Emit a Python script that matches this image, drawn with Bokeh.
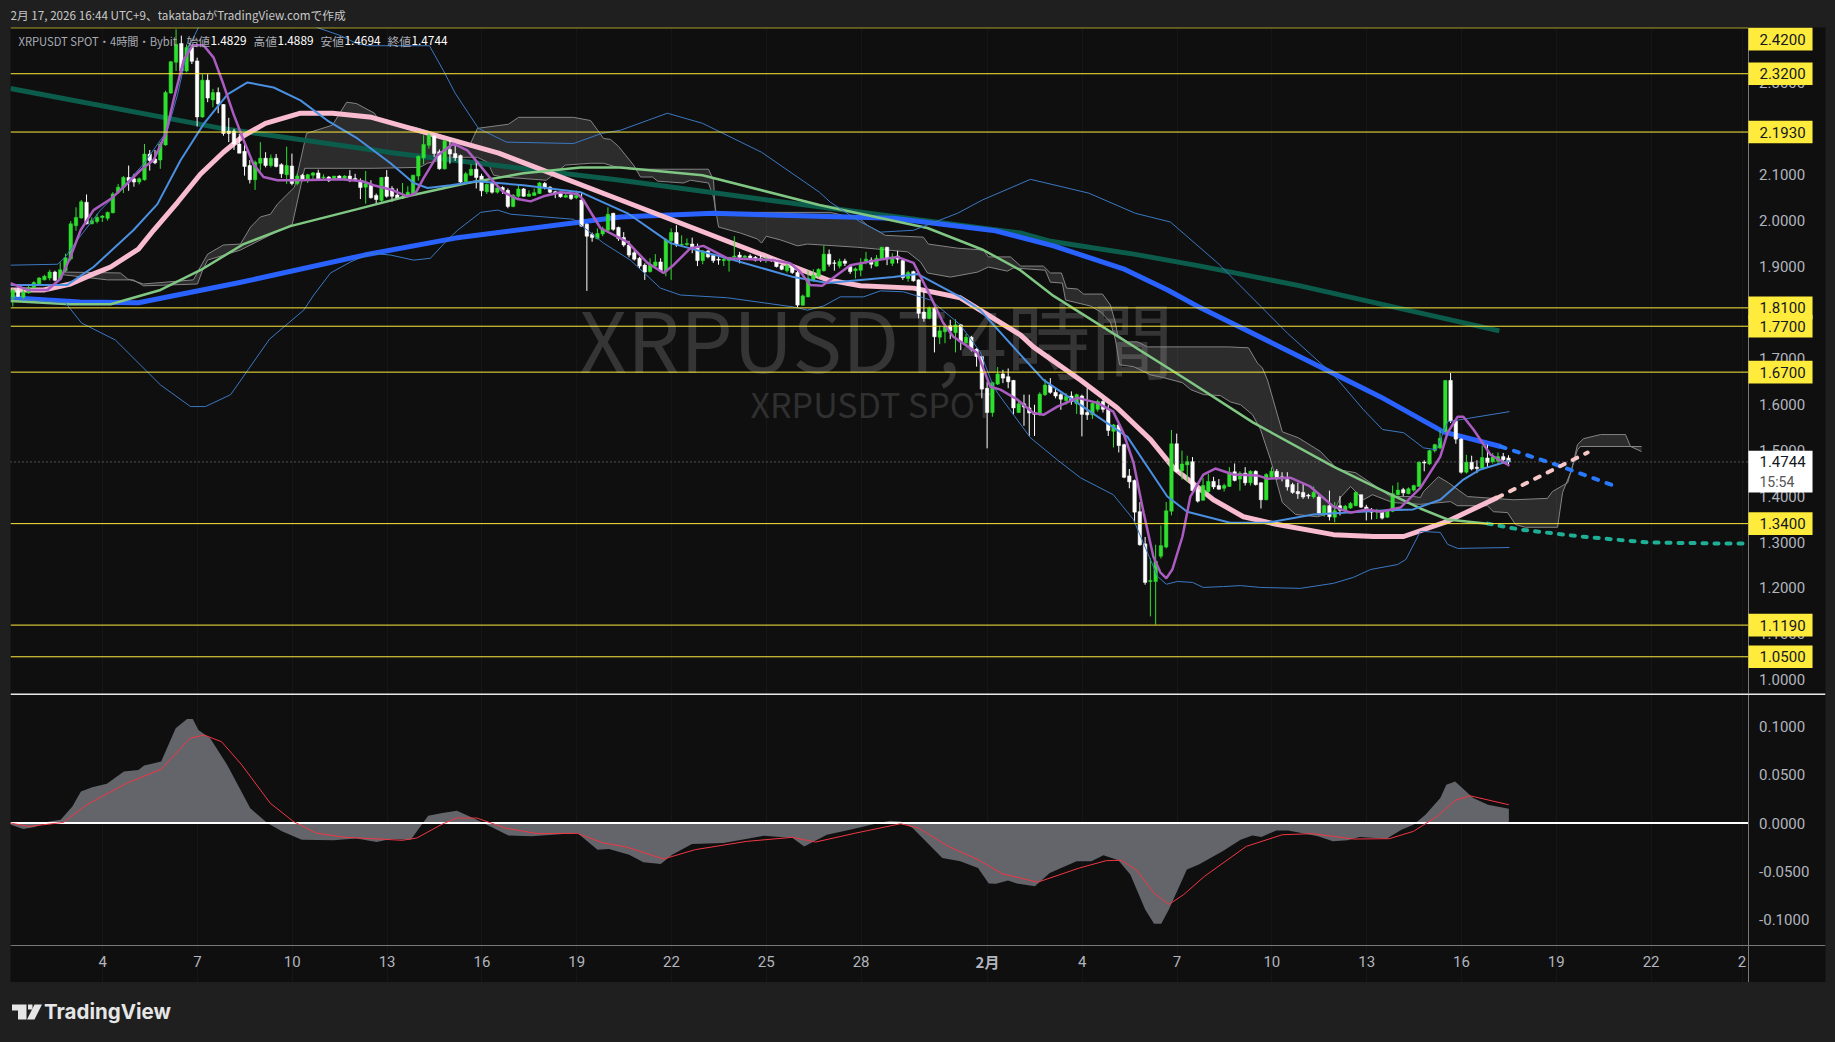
from bokeh.core.properties import value
from bokeh.embed import file_html
from bokeh.layouts import column
from bokeh.models import (ColumnDataSource, FixedTicker, GlobalInlineStyleSheet, Grid, Label, LinearAxis,
                          NumeralTickFormatter, Range1d, Span)
from bokeh.plotting import figure
from bokeh.resources import INLINE

# candles, 4h bars, x is days counted from Jan 0 (Feb 1 = 32)
first_day = 1.155
opens = [1.830, 1.848, 1.833, 1.843, 1.854, 1.861, 1.871, 1.875, 1.888, 1.873,
         1.891, 1.917, 1.989, 2.006, 2.040, 1.993, 1.998, 2.007, 2.005, 2.017,
         2.062, 2.073, 2.094, 2.091, 2.084, 2.089, 2.145, 2.134, 2.132, 2.165,
         2.278, 2.345, 2.386, 2.326, 2.377, 2.348, 2.226, 2.306, 2.263, 2.279,
         2.253, 2.195, 2.195, 2.167, 2.151, 2.120, 2.089, 2.125, 2.136, 2.120,
         2.136, 2.122, 2.100, 2.119, 2.081, 2.099, 2.089, 2.099, 2.104, 2.094,
         2.095, 2.089, 2.097, 2.092, 2.097, 2.092, 2.087, 2.073, 2.077, 2.055,
         2.044, 2.095, 2.070, 2.056, 2.049, 2.053, 2.059, 2.097, 2.137, 2.164,
         2.184, 2.150, 2.113, 2.155, 2.146, 2.142, 2.085, 2.099, 2.112, 2.097,
         2.063, 2.081, 2.062, 2.072, 2.066, 2.031, 2.053, 2.069, 2.053, 2.055,
         2.059, 2.081, 2.073, 2.063, 2.060, 2.051, 2.056, 2.050, 2.045, 1.992,
         1.970, 1.961, 1.971, 1.979, 2.016, 1.985, 1.963, 1.947, 1.930, 1.918,
         1.903, 1.889, 1.901, 1.910, 1.890, 1.956, 1.974, 1.947, 1.948, 1.949,
         1.943, 1.913, 1.934, 1.924, 1.916, 1.913, 1.913, 1.921, 1.925, 1.920,
         1.923, 1.920, 1.918, 1.914, 1.916, 1.914, 1.902, 1.891, 1.901, 1.887,
         1.816, 1.834, 1.869, 1.879, 1.891, 1.927, 1.908, 1.901, 1.912, 1.900,
         1.891, 1.892, 1.911, 1.914, 1.901, 1.916, 1.942, 1.907, 1.923, 1.913,
         1.874, 1.889, 1.871, 1.801, 1.787, 1.809, 1.746, 1.758, 1.771, 1.756,
         1.773, 1.734, 1.746, 1.720, 1.704, 1.635, 1.582, 1.644, 1.666, 1.660,
         1.652, 1.582, 1.601, 1.592, 1.582, 1.578, 1.621, 1.642, 1.626, 1.621,
         1.608, 1.618, 1.601, 1.618, 1.582, 1.577, 1.589, 1.606, 1.589, 1.541,
         1.555, 1.512, 1.444, 1.434, 1.366, 1.296, 1.214, 1.214, 1.269, 1.289,
         1.367, 1.514, 1.455, 1.468, 1.475, 1.414, 1.391, 1.410, 1.432, 1.423,
         1.417, 1.421, 1.453, 1.437, 1.450, 1.429, 1.454, 1.429, 1.392, 1.442,
         1.454, 1.442, 1.436, 1.425, 1.410, 1.408, 1.402, 1.398, 1.398, 1.363,
         1.379, 1.354, 1.379, 1.368, 1.374, 1.379, 1.403, 1.376, 1.367, 1.365,
         1.367, 1.354, 1.367, 1.403, 1.414, 1.405, 1.413, 1.421, 1.474, 1.470,
         1.499, 1.505, 1.541, 1.652, 1.563, 1.524, 1.452, 1.474, 1.463, 1.461,
         1.483, 1.475, 1.476, 1.486, 1.4829]
highs = [1.852, 1.855, 1.854, 1.859, 1.868, 1.877, 1.882, 1.893, 1.891, 1.909,
         1.928, 1.999, 2.029, 2.045, 2.057, 2.007, 2.015, 2.012, 2.020, 2.062,
         2.080, 2.097, 2.120, 2.102, 2.094, 2.167, 2.154, 2.154, 2.171, 2.283,
         2.348, 2.417, 2.403, 2.384, 2.381, 2.355, 2.319, 2.319, 2.287, 2.290,
         2.254, 2.224, 2.200, 2.189, 2.171, 2.132, 2.131, 2.171, 2.149, 2.144,
         2.145, 2.125, 2.161, 2.146, 2.102, 2.102, 2.102, 2.106, 2.111, 2.101,
         2.097, 2.097, 2.099, 2.099, 2.110, 2.102, 2.092, 2.108, 2.088, 2.059,
         2.095, 2.110, 2.075, 2.070, 2.082, 2.075, 2.100, 2.142, 2.186, 2.190,
         2.187, 2.155, 2.175, 2.176, 2.164, 2.144, 2.106, 2.123, 2.132, 2.102,
         2.081, 2.082, 2.081, 2.075, 2.070, 2.058, 2.079, 2.071, 2.066, 2.070,
         2.084, 2.084, 2.075, 2.065, 2.063, 2.060, 2.060, 2.065, 2.062, 1.994,
         1.974, 1.983, 1.987, 2.029, 2.017, 1.987, 1.975, 1.956, 1.936, 1.921,
         1.907, 1.918, 1.927, 1.918, 1.961, 1.983, 1.990, 1.968, 1.961, 1.963,
         1.950, 1.936, 1.936, 1.927, 1.921, 1.921, 1.920, 1.966, 1.932, 1.925,
         1.927, 1.923, 1.925, 1.921, 1.921, 1.916, 1.904, 1.907, 1.903, 1.891,
         1.839, 1.891, 1.894, 1.896, 1.946, 1.937, 1.914, 1.917, 1.917, 1.901,
         1.898, 1.918, 1.932, 1.920, 1.925, 1.943, 1.943, 1.929, 1.934, 1.916,
         1.891, 1.891, 1.872, 1.847, 1.813, 1.811, 1.771, 1.775, 1.784, 1.785,
         1.775, 1.753, 1.749, 1.722, 1.704, 1.649, 1.649, 1.681, 1.675, 1.678,
         1.653, 1.606, 1.621, 1.621, 1.599, 1.626, 1.655, 1.657, 1.635, 1.624,
         1.624, 1.628, 1.623, 1.621, 1.635, 1.606, 1.610, 1.611, 1.599, 1.557,
         1.557, 1.514, 1.459, 1.436, 1.387, 1.311, 1.265, 1.294, 1.336, 1.387,
         1.544, 1.536, 1.499, 1.488, 1.485, 1.421, 1.439, 1.449, 1.442, 1.437,
         1.427, 1.463, 1.471, 1.454, 1.463, 1.456, 1.456, 1.430, 1.450, 1.463,
         1.459, 1.452, 1.452, 1.429, 1.429, 1.427, 1.405, 1.421, 1.405, 1.381,
         1.412, 1.387, 1.400, 1.381, 1.387, 1.410, 1.403, 1.381, 1.374, 1.372,
         1.369, 1.371, 1.423, 1.430, 1.418, 1.419, 1.425, 1.475, 1.478, 1.501,
         1.514, 1.544, 1.652, 1.668, 1.566, 1.526, 1.490, 1.488, 1.478, 1.510,
         1.512, 1.494, 1.495, 1.494, 1.4889]
lows = [1.813, 1.834, 1.830, 1.841, 1.852, 1.859, 1.870, 1.870, 1.868, 1.871,
        1.888, 1.913, 1.978, 2.004, 1.992, 1.992, 1.994, 1.997, 2.000, 2.016,
        2.058, 2.060, 2.065, 2.074, 2.079, 2.087, 2.109, 2.123, 2.113, 2.163,
        2.276, 2.326, 2.323, 2.323, 2.341, 2.205, 2.224, 2.258, 2.247, 2.234,
        2.185, 2.171, 2.154, 2.147, 2.098, 2.081, 2.067, 2.109, 2.116, 2.116,
        2.116, 2.093, 2.080, 2.077, 2.077, 2.086, 2.082, 2.089, 2.088, 2.089,
        2.084, 2.088, 2.088, 2.089, 2.084, 2.086, 2.047, 2.037, 2.048, 2.037,
        2.041, 2.050, 2.041, 2.046, 2.047, 2.052, 2.055, 2.087, 2.123, 2.157,
        2.139, 2.111, 2.111, 2.124, 2.130, 2.079, 2.084, 2.097, 2.070, 2.053,
        2.058, 2.059, 2.059, 2.058, 2.027, 2.029, 2.050, 2.052, 2.052, 2.054,
        2.058, 2.068, 2.060, 2.049, 2.050, 2.050, 2.045, 2.047, 1.987, 1.847,
        1.954, 1.959, 1.966, 1.978, 1.978, 1.956, 1.943, 1.920, 1.913, 1.896,
        1.871, 1.887, 1.898, 1.889, 1.879, 1.871, 1.943, 1.943, 1.945, 1.929,
        1.901, 1.905, 1.918, 1.908, 1.904, 1.901, 1.889, 1.920, 1.907, 1.916,
        1.916, 1.911, 1.910, 1.908, 1.910, 1.898, 1.892, 1.887, 1.884, 1.811,
        1.814, 1.833, 1.867, 1.876, 1.889, 1.900, 1.891, 1.896, 1.901, 1.884,
        1.874, 1.879, 1.905, 1.896, 1.900, 1.914, 1.903, 1.901, 1.907, 1.871,
        1.867, 1.867, 1.787, 1.780, 1.785, 1.713, 1.731, 1.733, 1.742, 1.713,
        1.718, 1.729, 1.715, 1.682, 1.613, 1.504, 1.573, 1.642, 1.646, 1.635,
        1.577, 1.581, 1.553, 1.531, 1.531, 1.575, 1.618, 1.623, 1.613, 1.588,
        1.599, 1.599, 1.579, 1.530, 1.566, 1.568, 1.584, 1.582, 1.531, 1.506,
        1.495, 1.439, 1.417, 1.343, 1.292, 1.207, 1.138, 1.120, 1.264, 1.286,
        1.358, 1.452, 1.436, 1.432, 1.408, 1.386, 1.390, 1.407, 1.415, 1.414,
        1.410, 1.420, 1.432, 1.412, 1.423, 1.423, 1.423, 1.373, 1.391, 1.437,
        1.436, 1.432, 1.412, 1.405, 1.394, 1.394, 1.394, 1.394, 1.358, 1.355,
        1.347, 1.343, 1.358, 1.365, 1.372, 1.378, 1.374, 1.347, 1.349, 1.350,
        1.349, 1.352, 1.365, 1.401, 1.400, 1.404, 1.410, 1.420, 1.454, 1.468,
        1.495, 1.502, 1.539, 1.559, 1.514, 1.449, 1.449, 1.456, 1.450, 1.459,
        1.463, 1.471, 1.471, 1.473, 1.4694]
closes = [1.848, 1.835, 1.844, 1.854, 1.865, 1.875, 1.879, 1.888, 1.870, 1.893,
          1.919, 1.993, 2.007, 2.041, 1.993, 2.000, 2.007, 2.010, 2.018, 2.058,
          2.073, 2.094, 2.087, 2.084, 2.091, 2.145, 2.131, 2.126, 2.167, 2.279,
          2.346, 2.384, 2.326, 2.377, 2.347, 2.226, 2.306, 2.267, 2.279, 2.254,
          2.190, 2.190, 2.167, 2.147, 2.118, 2.089, 2.127, 2.136, 2.120, 2.136,
          2.118, 2.102, 2.120, 2.081, 2.097, 2.089, 2.100, 2.104, 2.091, 2.095,
          2.087, 2.097, 2.091, 2.097, 2.087, 2.089, 2.072, 2.081, 2.050, 2.046,
          2.094, 2.053, 2.053, 2.049, 2.053, 2.062, 2.099, 2.140, 2.166, 2.186,
          2.146, 2.113, 2.174, 2.145, 2.137, 2.084, 2.102, 2.112, 2.094, 2.065,
          2.079, 2.062, 2.071, 2.066, 2.031, 2.055, 2.069, 2.053, 2.058, 2.061,
          2.082, 2.072, 2.062, 2.060, 2.052, 2.055, 2.048, 2.055, 1.988, 1.966,
          1.963, 1.972, 1.982, 2.014, 1.981, 1.961, 1.947, 1.925, 1.916, 1.901,
          1.888, 1.903, 1.910, 1.891, 1.958, 1.974, 1.947, 1.948, 1.950, 1.943,
          1.913, 1.934, 1.921, 1.913, 1.914, 1.916, 1.920, 1.923, 1.920, 1.923,
          1.917, 1.914, 1.914, 1.917, 1.913, 1.900, 1.894, 1.902, 1.887, 1.816,
          1.836, 1.874, 1.881, 1.894, 1.927, 1.905, 1.907, 1.911, 1.907, 1.889,
          1.895, 1.907, 1.916, 1.905, 1.918, 1.942, 1.918, 1.921, 1.916, 1.876,
          1.887, 1.869, 1.798, 1.787, 1.809, 1.747, 1.760, 1.769, 1.760, 1.773,
          1.736, 1.746, 1.720, 1.704, 1.633, 1.582, 1.647, 1.666, 1.657, 1.649,
          1.592, 1.601, 1.594, 1.581, 1.578, 1.622, 1.642, 1.626, 1.618, 1.611,
          1.617, 1.606, 1.621, 1.578, 1.577, 1.602, 1.606, 1.589, 1.543, 1.555,
          1.510, 1.441, 1.431, 1.365, 1.294, 1.212, 1.216, 1.258, 1.292, 1.368,
          1.514, 1.454, 1.470, 1.475, 1.412, 1.389, 1.423, 1.432, 1.420, 1.415,
          1.423, 1.452, 1.434, 1.450, 1.429, 1.454, 1.425, 1.392, 1.447, 1.454,
          1.439, 1.439, 1.420, 1.408, 1.405, 1.398, 1.400, 1.408, 1.363, 1.379,
          1.355, 1.368, 1.369, 1.378, 1.384, 1.408, 1.376, 1.367, 1.365, 1.369,
          1.352, 1.369, 1.405, 1.413, 1.407, 1.416, 1.423, 1.474, 1.472, 1.499,
          1.512, 1.526, 1.652, 1.563, 1.524, 1.452, 1.474, 1.459, 1.460, 1.484,
          1.473, 1.485, 1.486, 1.479, 1.4744]

# moving averages: (day, price)
sma_slow_days = [1.08, 7.76, 13.27, 20.39, 25.04, 33.04, 34.0, 36.63, 38.74, 41.9, 48.2]
sma_slow_vals = [2.288, 2.201, 2.147, 2.088, 2.045, 1.973, 1.955, 1.927, 1.901, 1.858, 1.760]

blue_days = [1.08, 3.27, 5.13, 8.26, 12.28, 15.16, 20.38, 23.33, 29.02, 32.25, 34.09, 36.3, 37.7, 38.74, 40.0, 41.9, 42.6,
             44.44, 46.43, 48.24]
blue_vals = [1.832, 1.823, 1.821, 1.864, 1.925, 1.962, 2.008, 2.016, 2.005, 1.978, 1.945, 1.895, 1.849, 1.810, 1.768, 1.703, 1.679,
             1.616, 1.540, 1.508]
blue_fut_days = [48.24, 49.97, 51.81]
blue_fut_vals = [1.508, 1.469, 1.423]

pink_days = [1.08, 2.13, 2.98, 3.71, 4.25, 5.13, 5.61, 6.37, 7.09, 7.82, 8.46, 9.15, 10.26, 11.27, 12.51, 16.53, 20.39, 26.94, 27.98,
             29.66, 31.14, 33.04, 33.45, 34.94, 36.11, 37.16, 37.88, 39.15, 40.1, 41.18, 42.95, 44.22, 45.17, 46.56, 48.14]
pink_vals = [1.849, 1.849, 1.862, 1.884, 1.899, 1.938, 1.979, 2.040, 2.101, 2.149, 2.185, 2.212, 2.234, 2.234, 2.225, 2.147, 2.045, 1.871, 1.858,
             1.853, 1.832, 1.751, 1.725, 1.653, 1.592, 1.523, 1.462, 1.392, 1.355, 1.338, 1.316, 1.312, 1.312, 1.345, 1.397]
pink_fut_days = [48.14, 50.99]
pink_fut_vals = [1.397, 1.495]

green_days = [1.08, 2.98, 4.25, 5.83, 7.09, 8.46, 9.94, 12.06, 13.64, 15.54, 17.31, 19.12, 20.38, 22.98,
              26.68, 30.1, 31.87, 33.04, 34.09, 38.32, 40.41, 42.95, 44.44, 45.7, 46.56, 47.83]
green_vals = [1.825, 1.818, 1.818, 1.849, 1.892, 1.949, 1.988, 2.025, 2.053, 2.082, 2.103, 2.116, 2.116, 2.099,
              2.034, 1.984, 1.936, 1.892, 1.836, 1.653, 1.560, 1.464, 1.414, 1.373, 1.349, 1.340]
teal_fut_days = [47.83, 48.87, 50.77, 52.89, 54.98, 56.05]
teal_fut_vals = [1.340, 1.327, 1.312, 1.299, 1.297, 1.297]

# bollinger
bb_mid_days = [1.08, 2.88, 3.71, 4.97, 5.73, 6.46, 7.19, 7.95, 8.58, 9.41, 10.26, 11.11, 12.06, 13.11, 13.84,
               14.28, 15.01, 15.86, 17.31, 19.12, 20.61, 21.97, 23.77, 25.86, 26.94, 29.02, 29.78, 31.14, 31.77,
               33.04, 33.77, 36.43, 37.69, 38.32, 39.68, 40.85, 42.31, 44.65, 45.47, 46.33, 47.06, 47.6, 48.52]
bb_mid_vals = [1.860, 1.860, 1.899, 1.979, 2.036, 2.131, 2.210, 2.275, 2.301, 2.290, 2.262, 2.218, 2.179, 2.125, 2.082,
               2.071, 2.077, 2.086, 2.077, 2.062, 2.016, 1.951, 1.918, 1.877, 1.864, 1.877, 1.884, 1.834, 1.805,
               1.708, 1.653, 1.529, 1.399, 1.366, 1.342, 1.342, 1.360, 1.369, 1.371, 1.392, 1.436, 1.458, 1.477]
bb_up_days = [1.08, 2.57, 2.82, 3.2, 3.93, 4.25, 5.29, 6.05, 6.37, 6.68, 7.03, 8.05, 9.94, 10.77, 11.53, 12.03, 12.41,
              14.34, 14.78, 15.16, 15.89, 16.78, 18.9, 19.79, 20.39, 21.87, 22.98, 24.85, 26.68, 27.03, 27.98, 28.61,
              29.66, 31.05, 31.84, 33.36, 35.2, 36.68, 37.79, 39.28, 41.49, 42.98, 43.9, 44.5, 45.17, 45.8, 46.21,
              46.56, 48.52]
bb_up_vals = [1.903, 1.905, 1.921, 1.958, 2.023, 2.045, 2.123, 2.197, 2.275, 2.371, 2.421, 2.52, 2.52, 2.421, 2.403, 2.386, 2.381,
              2.381, 2.327, 2.277, 2.201, 2.171, 2.168, 2.190, 2.197, 2.234, 2.212, 2.149, 2.062, 2.040, 1.997, 1.975,
              1.979, 2.016, 2.045, 2.090, 2.060, 2.016, 1.997, 1.908, 1.755, 1.662, 1.588, 1.545, 1.538, 1.505, 1.501,
              1.562, 1.584]
bb_lo_days = [1.08, 2.03, 2.82, 3.33, 4.40, 5.83, 6.78, 7.25, 8.05, 9.28, 10.36, 10.68, 11.21, 11.84, 12.48, 13.11, 13.84,
              14.37, 14.91, 15.23, 15.96, 16.5, 16.91, 18.9, 19.34, 19.85, 20.7, 21.65, 22.28, 23.77, 25.86, 26.3, 26.81,
              27.34, 28.08, 28.61, 29.34, 30.2, 31.14, 31.77, 32.19, 32.41, 33.36, 34.21, 34.94, 35.98, 36.62, 37.38,
              37.66, 38.01, 38.49, 38.83, 39.47, 40.0, 40.64, 41.9, 42.95, 43.58, 44.12, 44.98, 45.24, 45.7, 46.33,
              46.56, 46.88, 48.52]
bb_lo_vals = [1.832, 1.825, 1.821, 1.777, 1.740, 1.642, 1.595, 1.595, 1.621, 1.742, 1.805, 1.838, 1.886, 1.910, 1.929, 1.925, 1.914,
              1.918, 1.958, 1.979, 2.018, 2.023, 2.014, 2.003, 1.979, 1.951, 1.914, 1.853, 1.838, 1.832, 1.812, 1.805, 1.814,
              1.834, 1.834, 1.847, 1.845, 1.827, 1.773, 1.714, 1.638, 1.616, 1.527, 1.479, 1.440, 1.403, 1.349, 1.225,
              1.208, 1.214, 1.212, 1.201, 1.203, 1.205, 1.201, 1.199, 1.210, 1.223, 1.240, 1.251, 1.262, 1.323, 1.321,
              1.295, 1.286, 1.288]

# fast ma
purple_days = [1.08, 1.62, 2.25, 2.66, 2.98, 3.3, 3.71, 4.25, 4.66, 5.2, 5.61, 5.99, 6.24, 6.56, 6.84, 7.19, 7.51, 7.82,
               8.14, 8.46, 8.77, 9.09, 9.53, 10.26, 11.53, 12.22, 12.57, 13.11, 13.64, 13.9, 14.15, 14.59, 15.1, 15.54,
               15.86, 16.27, 16.68, 17.13, 17.54, 17.95, 18.49, 19.03, 19.21, 19.75, 20.61, 21.24, 21.75, 22.06, 22.6,
               23.01, 23.77, 25.22, 25.76, 26.08, 26.39, 26.77, 27.25, 27.66, 28.51, 29.14, 29.66, 30.1, 30.6, 30.92,
               31.68, 32.09, 32.41, 32.95, 33.45, 33.77, 34.21, 34.85, 35.48, 35.98, 36.3, 36.62, 36.94, 37.25, 37.47,
               37.66, 37.85, 38.17, 38.42, 38.83, 39.21, 39.78, 40.54, 40.85, 41.58, 42.21, 42.95, 43.49, 44.02, 44.44,
               45.07, 45.7, 46.33, 46.56, 46.88, 47.06, 47.38, 47.92, 48.52]
purple_vals = [1.864, 1.849, 1.849, 1.873, 1.921, 1.979, 2.023, 2.047, 2.073, 2.110, 2.132, 2.188, 2.262, 2.349, 2.382, 2.382, 2.355, 2.297,
               2.232, 2.175, 2.123, 2.095, 2.088, 2.088, 2.090, 2.086, 2.077, 2.068, 2.053, 2.060, 2.092, 2.142, 2.168, 2.153,
               2.127, 2.092, 2.062, 2.047, 2.042, 2.053, 2.062, 2.058, 2.045, 1.984, 1.953, 1.908, 1.886, 1.903, 1.940,
               1.945, 1.918, 1.914, 1.907, 1.888, 1.860, 1.858, 1.882, 1.903, 1.914, 1.921, 1.908, 1.849, 1.777, 1.747,
               1.712, 1.638, 1.632, 1.610, 1.581, 1.577, 1.595, 1.614, 1.603, 1.584, 1.538, 1.473, 1.364, 1.268, 1.234,
               1.221, 1.240, 1.312, 1.399, 1.447, 1.460, 1.447, 1.445, 1.438, 1.440, 1.421, 1.377, 1.364, 1.371, 1.366,
               1.375, 1.418, 1.486, 1.538, 1.573, 1.573, 1.545, 1.490, 1.466]

# ichimoku cloud edges
span_a_days = [2.76, 4.56, 4.79, 5.29, 6.87, 7.09, 7.32, 7.82, 8.36, 8.68, 8.99, 9.31, 9.53, 10.07, 10.45, 11.27, 11.72, 12.03,
               12.6, 12.76, 13.9, 15.04, 15.32, 15.64, 15.86, 16.84, 17.16, 18.9, 19.44, 19.85, 20.07, 20.32, 20.8, 21.02,
               21.4, 21.56, 22.38, 22.6, 23.17, 23.33, 23.49, 24.18, 24.72, 24.85, 25.0, 25.45, 25.99, 26.3, 27.89, 28.52,
               29.47, 29.88, 30.1, 30.83, 31.69, 32.03, 32.63, 32.82, 33.83, 33.99, 34.37, 34.47, 35.26, 35.58, 35.89, 36.05,
               36.18, 36.62, 37.16, 37.57, 38.17, 38.43, 38.84, 39.37, 39.69, 40.01, 40.39, 40.64, 40.96, 41.33, 41.75, 42.44,
               42.95, 43.17, 43.49, 43.9, 44.18, 44.82, 45.7, 46.65, 46.87, 47.82, 48.01, 48.46, 48.71, 49.02, 50.04, 50.2,
               50.45, 50.67, 50.77, 52.7]
span_a_vals = [1.888, 1.886, 1.873, 1.862, 1.871, 1.899, 1.927, 1.947, 1.949, 1.986, 2.008, 2.014, 2.036, 2.073, 2.190, 2.208, 2.258, 2.255,
               2.234, 2.216, 2.203, 2.179, 2.168, 2.168, 2.201, 2.210, 2.225, 2.225, 2.218, 2.179, 2.177, 2.162, 2.121, 2.095,
               2.095, 2.086, 2.082, 2.088, 2.082, 2.051, 1.986, 1.973, 1.960, 1.951, 1.966, 1.958, 1.945, 1.949, 1.942, 1.938,
               1.932, 1.910, 1.886, 1.877, 1.888, 1.899, 1.890, 1.897, 1.892, 1.866, 1.864, 1.827, 1.814, 1.801, 1.779, 1.740,
               1.686, 1.682, 1.664, 1.658, 1.647, 1.632, 1.621, 1.619, 1.605, 1.599, 1.577, 1.545, 1.479, 1.386, 1.360, 1.355,
               1.364, 1.397, 1.421, 1.392, 1.403, 1.386, 1.382, 1.388, 1.379, 1.379, 1.366, 1.364, 1.338, 1.332, 1.332, 1.408,
               1.451, 1.501, 1.508, 1.508]
span_b_days = [2.76, 4.15, 4.97, 5.29, 7.0, 7.16, 7.32, 8.36, 9.31, 10.0, 10.39, 12.54, 14.03, 14.28, 15.01, 15.86, 16.18, 16.37,
               16.68, 18.04, 18.64, 19.44, 19.85, 20.29, 20.8, 23.17, 23.33, 23.39, 27.03, 27.41, 27.89, 28.2, 28.77, 29.97,
               30.13, 31.05, 31.87, 32.03, 32.73, 33.05, 33.77, 33.99, 34.34, 34.5, 34.85, 35.04, 35.64, 35.89, 36.05, 36.12,
               36.43, 36.75, 37.06, 39.6, 40.26, 40.54, 40.7, 40.86, 41.33, 41.84, 42.54, 43.08, 43.65, 44.34, 44.75, 45.48,
               45.7, 45.8, 46.27, 46.59, 47.19, 48.65, 49.72, 49.88, 50.36, 50.51, 50.67, 50.86, 51.4, 52.19, 52.35, 52.7]
span_b_vals = [1.882, 1.871, 1.871, 1.858, 1.862, 1.892, 1.914, 1.936, 1.969, 1.992, 2.114, 2.114, 2.116, 2.125, 2.138, 2.138, 2.127, 2.099,
               2.095, 2.088, 2.121, 2.125, 2.125, 2.116, 2.112, 2.112, 2.088, 2.018, 2.018, 2.012, 2.008, 1.990, 1.968, 1.964,
               1.949, 1.940, 1.936, 1.921, 1.921, 1.901, 1.901, 1.886, 1.886, 1.853, 1.851, 1.840, 1.840, 1.816, 1.777, 1.751,
               1.736, 1.736, 1.725, 1.725, 1.723, 1.690, 1.679, 1.653, 1.540, 1.527, 1.497, 1.458, 1.451, 1.419, 1.399, 1.399,
               1.397, 1.410, 1.442, 1.429, 1.399, 1.392, 1.395, 1.410, 1.429, 1.464, 1.512, 1.525, 1.534, 1.534, 1.508, 1.497]

# lower pane
hist_days = [1.09, 1.49, 1.86, 2.31, 2.67, 3.04, 3.31, 3.67, 4.13, 4.67, 5.13, 5.31, 5.85, 6.31, 6.67, 6.85, 7.03, 7.4, 7.94, 8.67,
             9.21, 9.67, 10.3, 11.3, 12.03, 12.67, 13.12, 13.75, 14.3, 14.75, 15.21, 15.84, 16.84, 17.57, 19.02, 19.66, 20.02,
             20.66, 21.11, 21.66, 22.02, 22.65, 23.65, 24.93, 25.83, 26.2, 26.92, 27.65, 28.56, 28.92, 29.25, 29.63, 30.1, 30.57,
             31.14, 31.7, 32.04, 32.27, 32.65, 32.93, 33.5, 33.97, 34.82, 35.29, 35.67, 36.14, 36.52, 36.99, 37.27, 37.5, 37.74,
             38.31, 38.69, 39.44, 40.01, 40.38, 40.67, 41.14, 41.52, 42.46, 42.93, 43.4, 43.78, 44.63, 45.1, 45.48, 45.86, 46.33,
             46.52, 46.8, 47.37, 47.84, 48.5]
hist_vals = [-.0017, -.0062, -.0041, .0017, .0035, .0173, .0328, .0373, .0407, .0535, .0552, .0597, .0638, .0983, .108, .108, .0966, .088,
             .0604, .0155, 0, -.0086, -.0173, -.0179, -.0159, -.0197, -.0166, -.0173, .0076, .0104, .0128, .0035, -.0128, -.0138,
             -.0104, -.0276, -.0269, -.0328, -.0407, -.0424, -.0328, -.0217, -.0207, -.0131, -.0155, -.0242, -.0121, -.0069, 0, .0024,
             .0017, -.0052, -.0207, -.0362, -.0397, -.0466, -.0628, -.0631, -.0597, -.0628, -.0656, -.0518, -.0397, -.0397, -.0335,
             -.0386, -.0535, -.0897, -.1046, -.1046, -.0897, -.0483, -.0431, -.0293, -.0173, -.0128, -.0145, -.0076, -.0076, -.0138,
             -.019, -.0179, -.0145, -.0162, -.0069, -.0017, .0086, .0259, .0397, .0431, .0259, .019, .0148]
signal_days = [1.09, 1.67, 2.76, 3.49, 4.76, 5.85, 6.76, 7.21, 7.76, 8.4, 9.3, 10.03, 10.76, 11.67, 12.76, 13.48, 13.94, 14.75, 15.21,
               15.84, 16.75, 17.75, 19.02, 19.84, 20.57, 21.75, 22.75, 24.38, 25.83, 26.56, 27.83, 29.25, 29.82, 30.76, 31.7, 32.46,
               33.59, 34.91, 35.76, 36.23, 36.7, 37.27, 37.74, 38.21, 38.87, 40.19, 41.33, 42.27, 43.59, 44.72, 45.48, 46.23, 46.8,
               47.27, 48.5]
signal_vals = [0, -.0035, .0007, .019, .0414, .0559, .088, .0914, .0845, .0604, .0207, .0017, -.0104, -.0148, -.0166, -.0179, -.0155, -.001,
               .0052, .0052, -.0052, -.011, -.0107, -.0207, -.0248, -.0373, -.0276, -.019, -.0148, -.0197, -.0104, -.0007, -.0052,
               -.0242, -.038, -.0525, -.0614, -.0466, -.039, -.0386, -.0483, -.0725, -.0845, -.0742, -.0552, -.0242, -.0121, -.011,
               -.0166, -.0162, -.0086, .0069, .0235, .0283, .019]

level_prices = [2.42, 2.32, 2.193, 1.81, 1.77, 1.67, 1.34, 1.119, 1.05]
level_labels = ["2.4200", "2.3200", "2.1930", "1.8100", "1.7700", "1.6700", "1.3400", "1.1190", "1.0500"]
tag_centres = [2.3954, 2.32, 2.193, 1.81, 1.77, 1.67, 1.34, 1.119, 1.05]
price_ticks = [1.0, 1.1, 1.2, 1.3, 1.4, 1.5, 1.6, 1.7, 1.8, 1.9, 2.0, 2.1, 2.2, 2.3]
macd_ticks = [0.1, 0.05, 0.0, -0.05, -0.1]
macd_tick_labels = ["0.1000", "0.0500", "0.0000", "-0.0500", "-0.1000"]
day_ticks = [4, 7, 10, 13, 16, 19, 22, 25, 28, 32, 35, 38, 41, 44, 47, 50, 53, 55.88]
day_labels = ["4", "7", "10", "13", "16", "19", "22", "25", "28", "", "4", "7", "10", "13", "16", "19", "22", "2"]
last_price = 1.4744

assert len(opens) == len(highs) == len(lows) == len(closes)

PANE = "#0f0f0f"
OUTER = "#1f1f1f"
AXIS_TXT = "#b2b5be"
CJK = "Noto Sans CJK JP"
LEVEL = "#ffeb3b"
SCALE_DAY = 56.07
TAG_L, TAG_R = 56.08, 58.11
TAG_TXT = 56.43
TAG_H = 0.0247

x_range = Range1d(1.082, 58.52)


def strip(height, y_top):
    # plain band above/below the panes, one data unit = one pixel
    f = figure(width=1835, height=height, x_range=Range1d(10, 1825), y_range=Range1d(y_top + height, y_top),
               output_backend="svg", toolbar_location=None, tools="", x_axis_location=None, y_axis_location=None,
               min_border_left=10, min_border_right=10, min_border_top=0, min_border_bottom=0,
               background_fill_color=OUTER, border_fill_color=OUTER)
    f.grid.visible = False
    f.outline_line_color = None
    return f


head = strip(27, 0)
head.stylesheets = [GlobalInlineStyleSheet(css="html,body{background:#1f1f1f;overflow:hidden}")]
head.text([10], [13.5], text=["2月 17, 2026 16:44 UTC+9、takatabaがTradingView.comで作成"], text_color="#c8c8c8",
          text_font=value(CJK), text_font_size="11.7px", text_baseline="middle")

p = figure(width=1835, height=666, x_range=x_range, y_range=Range1d(0.970, 2.4207),
           output_backend="svg", toolbar_location=None, tools="", x_axis_location=None, y_axis_location=None,
           min_border_left=10, min_border_right=10, min_border_top=0, min_border_bottom=0,
           background_fill_color=PANE, border_fill_color=OUTER)
p.grid.visible = False
p.outline_line_color = None

y_axis = LinearAxis(fixed_location=SCALE_DAY, ticker=FixedTicker(ticks=price_ticks), formatter=NumeralTickFormatter(format="0.0000"))
y_axis.major_tick_line_color = None
y_axis.minor_tick_line_color = None
y_axis.major_tick_in = 0
y_axis.major_tick_out = 0
y_axis.axis_line_color = "#787878"
y_axis.major_label_text_color = AXIS_TXT
y_axis.major_label_text_font = "Roboto"
y_axis.major_label_text_font_size = "15px"
y_axis.major_label_standoff = 11
p.add_layout(y_axis, "right")
p.add_layout(Grid(dimension=0, ticker=FixedTicker(ticks=day_ticks), grid_line_color="#161616"))


# label helpers: screen x counts from the frame's left edge, screen y from the frame's bottom
def sx(x):
    return x - 10


def sy(y):
    return 693 - y


p.add_layout(Label(x=sx(876), y=sy(336), x_units="screen", y_units="screen", text="XRPUSDT,4時間", text_font=CJK, text_font_size="83.5px",
                   text_color="#353535", text_align="center", text_baseline="middle", level="underlay"))
p.add_layout(Label(x=sx(872), y=sy(403), x_units="screen", y_units="screen", text="XRPUSDT SPOT", text_font=CJK, text_font_size="34px",
                   text_color="#303030", text_align="center", text_baseline="middle", level="underlay"))

# cloud
p.patch(span_a_days + span_b_days[::-1], span_a_vals + span_b_vals[::-1], fill_color="#ffffff", fill_alpha=0.12, line_color=None)
p.line(span_a_days, span_a_vals, line_color="#848484", line_width=1)
p.line(span_b_days, span_b_vals, line_color="#848484", line_width=1)

p.line(sma_slow_days, sma_slow_vals, line_color="#0b5c4b", line_width=5)
p.line(blue_days, blue_vals, line_color="#2962ff", line_width=5, line_join="round")
p.line(blue_fut_days, blue_fut_vals, line_color="#2979ff", line_width=4, line_dash="5 9", line_cap="round")
p.line(pink_days, pink_vals, line_color="#f8bbd0", line_width=5, line_join="round")
p.line(pink_fut_days, pink_fut_vals, line_color="#f8c8c8", line_width=4, line_dash="5 9", line_cap="round")
p.line(teal_fut_days, teal_fut_vals, line_color="#1fae96", line_width=4, line_dash="4 8", line_cap="round")

# candles
candle_days = [first_day + i / 6 for i in range(len(opens))]
colors = ["#2fe02f" if c >= o else "#ffffff" for o, c in zip(opens, closes)]
source = ColumnDataSource(data=dict(day=candle_days, open=opens, high=highs, low=lows, close=closes, color=colors))
p.segment("day", "high", "day", "low", source=source, color="color", line_width=1)
p.vbar("day", 0.11, "open", "close", source=source, fill_color="color", line_color="color", line_width=0.5)

p.line(green_days, green_vals, line_color="#81c784", line_width=2.5)
p.line(bb_up_days, bb_up_vals, line_color="#3b78c2", line_width=1)
p.line(bb_lo_days, bb_lo_vals, line_color="#3b78c2", line_width=1)
p.line(bb_mid_days, bb_mid_vals, line_color="#4a90e2", line_width=2)
p.line(purple_days, purple_vals, line_color="#ab5cc0", line_width=2.5)

# horizontal levels stop at the price scale
p.segment([1.082] * len(level_prices), level_prices, [SCALE_DAY] * len(level_prices), level_prices, line_color=LEVEL, line_width=1)
p.segment([1.082], [last_price], [SCALE_DAY], [last_price], line_color="#9598a1", line_width=1, line_dash="1 3")

# scale tags
n_tags = len(tag_centres)
p.quad(left=[TAG_L] * n_tags, right=[TAG_R] * n_tags, top=[c + TAG_H for c in tag_centres], bottom=[c - TAG_H for c in tag_centres],
       fill_color=LEVEL, line_color=None, level="annotation")
p.text([TAG_TXT] * n_tags, tag_centres, text=level_labels, text_color="#131722", text_font=value("Roboto"),
       text_font_size="15px", text_baseline="middle", level="annotation")
p.quad(left=[TAG_L], right=[TAG_R], top=[1.4989], bottom=[1.4077], fill_color="#ffffff", line_color=None, level="annotation")
p.text([TAG_TXT], [last_price], text=["1.4744"], text_color="#131722", text_font=value("Roboto"), text_font_size="15px",
       text_baseline="middle", level="annotation")
p.text([TAG_TXT], [1.4315], text=["15:54"], text_color="#555555", text_font=value("Roboto"), text_font_size="14px",
       text_baseline="middle", level="annotation")

# legend line
legend_parts = [("XRPUSDT SPOT・4時間・Bybit", 18, "#a8abb4", "11.2px"), ("始値", 186, "#a8abb4", "11.8px"), ("1.4829", 210, "#ffffff", "11.8px"),
                ("高値", 253, "#a8abb4", "11.8px"), ("1.4889", 277, "#ffffff", "11.8px"), ("安値", 320, "#a8abb4", "11.8px"),
                ("1.4694", 344, "#ffffff", "11.8px"), ("終値", 387, "#a8abb4", "11.8px"), ("1.4744", 411, "#ffffff", "11.8px")]
for txt, lx, col, size in legend_parts:
    p.add_layout(Label(x=sx(lx), y=sy(40), x_units="screen", y_units="screen", text=txt, text_color=col, text_font=CJK,
                       text_font_size=size, text_baseline="middle"))

# lower pane
q = figure(width=1835, height=289, x_range=x_range, y_range=Range1d(-0.1655, 0.1345),
           output_backend="svg", toolbar_location=None, tools="", x_axis_location=None, y_axis_location=None,
           min_border_left=10, min_border_right=10, min_border_top=0, min_border_bottom=0,
           background_fill_color=PANE, border_fill_color=OUTER)
q.grid.visible = False
q.outline_line_color = None

macd_axis = LinearAxis(fixed_location=SCALE_DAY, ticker=FixedTicker(ticks=macd_ticks))
macd_axis.major_label_overrides = dict(zip(macd_ticks, macd_tick_labels))
time_axis = LinearAxis(fixed_location=-0.127, ticker=FixedTicker(ticks=day_ticks))
time_axis.major_label_overrides = dict(zip(day_ticks, day_labels))
for ax in (macd_axis, time_axis):
    ax.major_tick_line_color = None
    ax.minor_tick_line_color = None
    ax.major_tick_in = 0
    ax.major_tick_out = 0
    ax.axis_line_color = "#787878"
    ax.major_label_text_color = AXIS_TXT
    ax.major_label_text_font = "Roboto"
    ax.major_label_text_font_size = "15px"
    ax.major_label_standoff = 11
q.add_layout(macd_axis, "right")
q.add_layout(time_axis, "below")
q.add_layout(Grid(dimension=0, ticker=FixedTicker(ticks=day_ticks), grid_line_color="#161616"))

q.varea(hist_days, [0] * len(hist_days), hist_vals, fill_color="#63656b")
q.segment([1.082], [0], [SCALE_DAY], [0], line_color="#ffffff", line_width=2)
q.line(signal_days, signal_vals, line_color="#f23645", line_width=1)
q.add_layout(Span(location=0.1345, dimension="width", line_color="#e8e8e8", line_width=3))
q.text([32], [-0.1436], text=["2月"], text_color=AXIS_TXT, text_font=value(CJK), text_font_style="bold", text_font_size="15px",
       text_align="center", text_baseline="middle", level="annotation")

# footer with the logo
foot = strip(60, 982)
logo_xs = [[11.5, 26, 26, 17.5, 17.5, 11.5], [27.5, 32, 32, 27.5], [34, 41.5, 34, 26.5]]
logo_ys = [[1004, 1004, 1019, 1019, 1010, 1010], [1004, 1004, 1009, 1009], [1004, 1004, 1019, 1019]]
foot.patches(logo_xs, logo_ys, fill_color="#e6e6e6", line_color=None)
foot.text([43.5], [1011], text=["TradingView"], text_color="#e6e6e6", text_font=value("Inter"), text_font_size="20.5px",
          text_font_style="bold", text_baseline="middle")

layout = column(head, p, q, foot, spacing=0)
open("out.html", "w").write(file_html(layout, INLINE))
